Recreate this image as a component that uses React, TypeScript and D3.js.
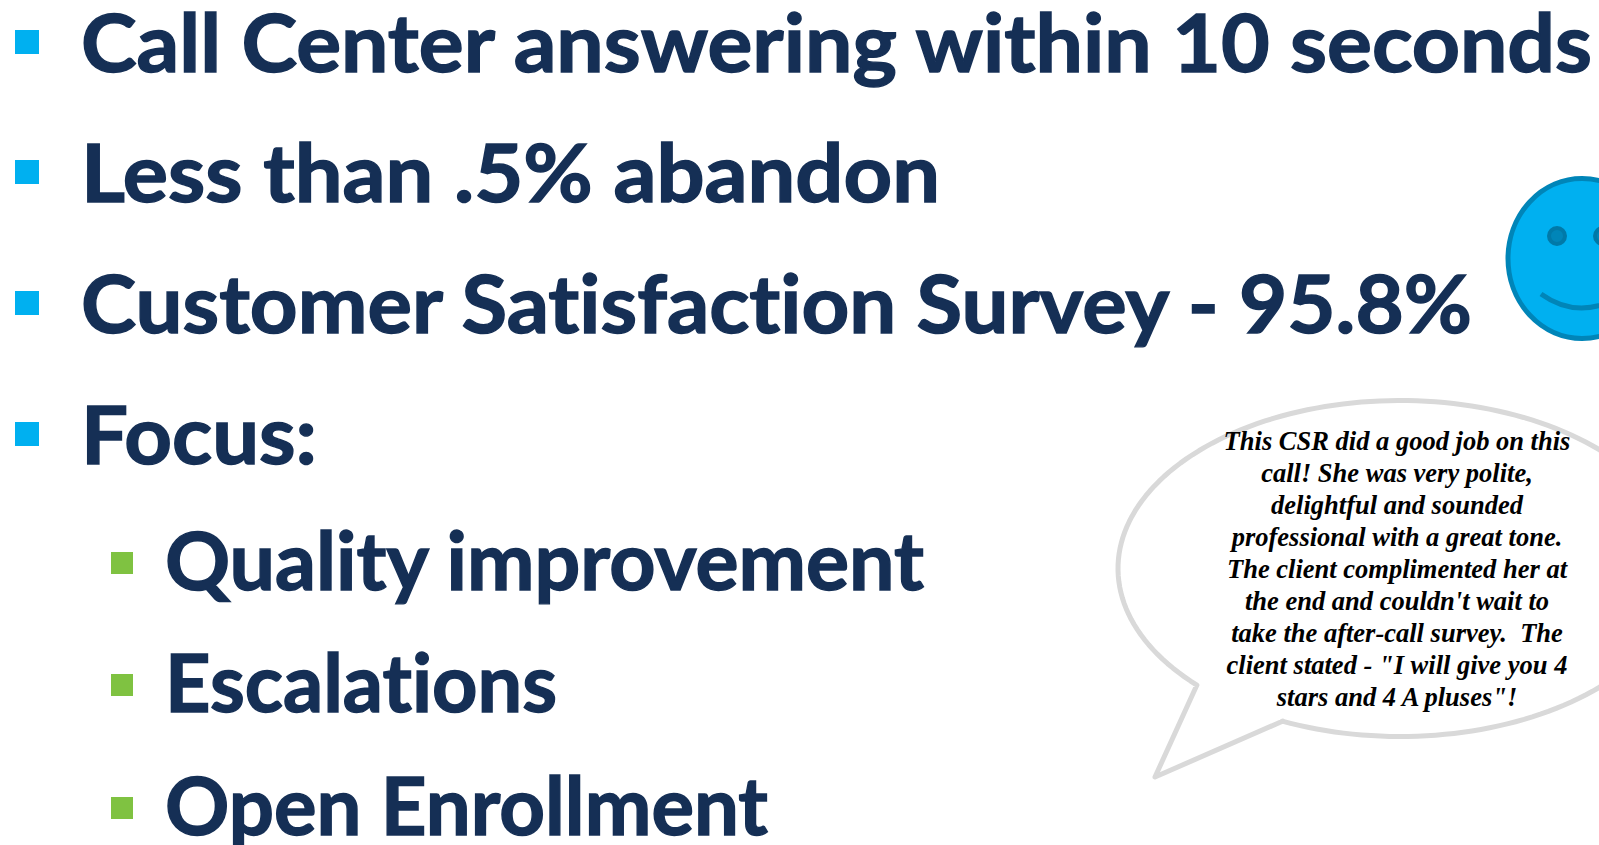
import React from "react";
import * as d3 from "d3";

const W = 1599, H = 845;
const topItems = ["Call Center answering within 10 seconds", "Less than .5% abandon", "Customer Satisfaction Survey - 95.8%", "Focus:"];
const topWidths = [1511, 859, 1391, 236];
const subItems = ["Quality improvement", "Escalations", "Open Enrollment"];
const subWidths = [759, 392, 603];
const quoteLines = [
  "This CSR did a good job on this",
  "call! She was very polite,",
  "delightful and sounded",
  "professional with a great tone.",
  "The client complimented her at",
  "the end and couldn't wait to",
  "take the after-call survey.  The",
  'client stated - "I will give you 4',
  'stars and 4 A pluses"!',
];

const topY = d3.scaleLinear().domain([0, 1]).range([71.5, 202.2]);
const subY = d3.scaleLinear().domain([0, 1]).range([589.5, 712]);
const quoteY = d3.scaleLinear().domain([0, 1]).range([450, 482]);

function bubblePath() {
  const cx = 1400, cy = 568.5, rx = 282, ry = 168;
  const a0 = Math.atan2((720 - cy) / ry, (1283 - cx) / rx);
  const a1 = Math.atan2((685 - cy) / ry, (1197 - cx) / rx);
  // go the long way round, from the tail's right foot over the top to its left foot
  const span = 2 * Math.PI - (a1 - a0);
  const arc: [number, number][] = d3.range(0, 181).map((i) => {
    const a = a0 - (i / 180) * span;
    return [cx + rx * Math.cos(a), cy + ry * Math.sin(a)];
  });
  const line = d3.line().curve(d3.curveLinear);
  return line([...arc, [1155, 777], [1283, 721]]) + "Z";
}

const smile = d3.path();
smile.moveTo(1541, 294);
smile.quadraticCurveTo(1580, 322, 1625, 294);

const headingStyle: React.CSSProperties = { fontVariantLigatures: "none", fontFeatureSettings: '"liga" 0' };

export default function App() {
  return (
    <svg width={W} height={H} viewBox={`0 0 ${W} ${H}`} style={{ position: "absolute", left: 0, top: 0, background: "#fff", display: "block" }}>
      {topItems.map((t, i) => (
        <g key={t}>
          <rect x={15} y={Math.round(topY(i)) - 42} width={24} height={24} fill="#00B0F0" />
          <text x={81} y={topY(i)} fontFamily="Lato" fontWeight={700} fontSize={80} fill="#152F55" stroke="#152F55" strokeWidth={1.4} textLength={topWidths[i]} lengthAdjust="spacingAndGlyphs" style={headingStyle}>{t}</text>
        </g>
      ))}
      {subItems.map((t, i) => (
        <g key={t}>
          <rect x={111} y={Math.round(subY(i)) - 38} width={22} height={22} fill="#7FC241" />
          <text x={165} y={subY(i)} fontFamily="Lato" fontWeight={700} fontSize={80} fill="#152F55" stroke="#152F55" strokeWidth={1.4} textLength={subWidths[i]} lengthAdjust="spacingAndGlyphs" style={headingStyle}>{t}</text>
        </g>
      ))}
      <ellipse cx={1582} cy={258.5} rx={74} ry={80} fill="#00B0F0" stroke="#0085B8" strokeWidth={5} />
      {[1557, 1603].map((x) => (
        <circle key={x} cx={x} cy={236} r={8} fill="#0085B8" stroke="#0079A8" strokeWidth={4} />
      ))}
      <path d={smile.toString()} fill="none" stroke="#0085B8" strokeWidth={5} />
      <path d={bubblePath()} fill="#fff" stroke="#D9D9D9" strokeWidth={5} strokeLinejoin="round" />
      {quoteLines.map((t, i) => (
        <text key={i} x={1397} y={quoteY(i)} textAnchor="middle" fontFamily="Liberation Serif" fontWeight={700} fontStyle="italic" fontSize={26.5} fill="#000" style={{ whiteSpace: "pre" }}>{t}</text>
      ))}
    </svg>
  );
}
